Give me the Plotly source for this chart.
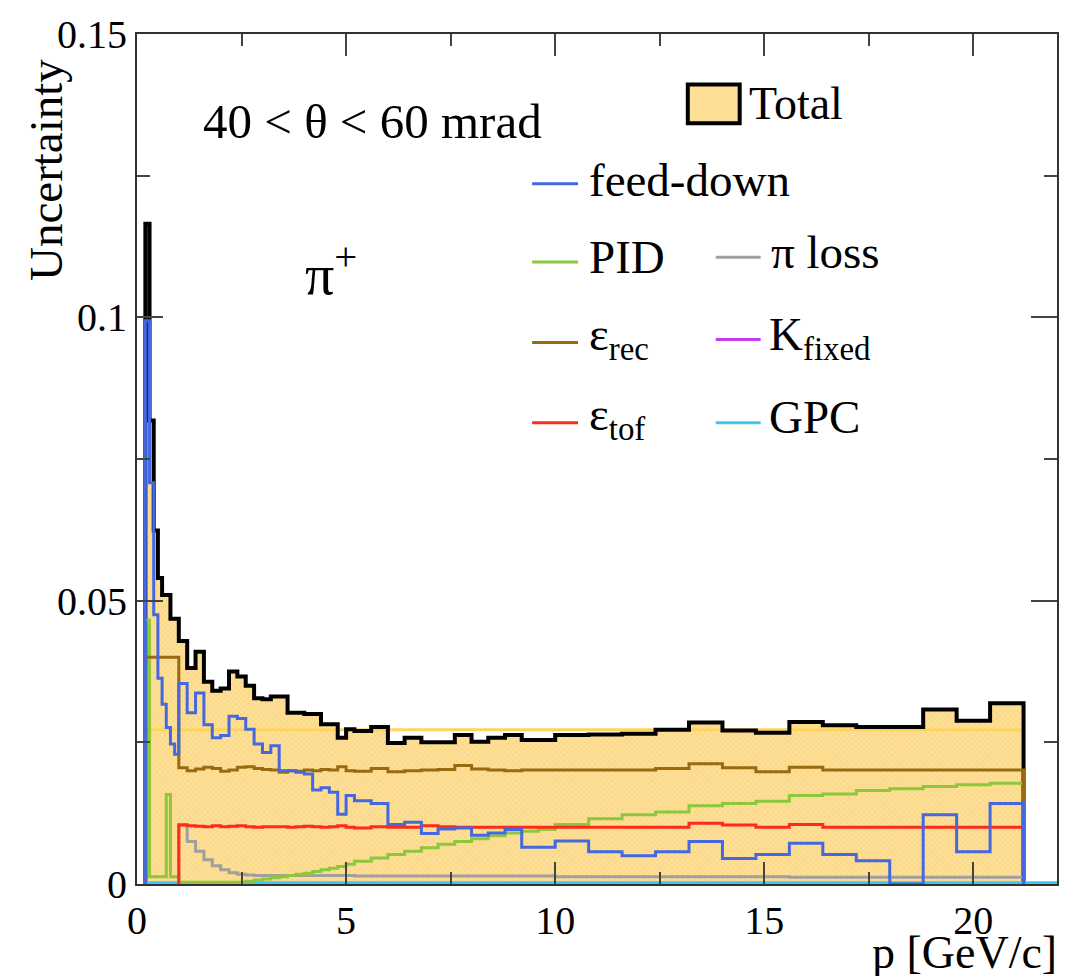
import plotly.graph_objects as go

# ---- binning in p [GeV/c] -------------------------------------------------
edges = [0.2, 0.3, 0.4, 0.5, 0.6, 0.7, 0.8, 0.9, 1.0,
         1.2, 1.4, 1.6, 1.8, 2.0, 2.2, 2.4, 2.6, 2.8, 3.0, 3.2,
         3.4, 3.6, 3.8, 4.0, 4.2, 4.4, 4.6, 4.8, 5.0, 5.2,
         5.6, 6.0, 6.4, 6.8, 7.2, 7.6, 8.0, 8.4, 8.8, 9.2, 9.6, 10.0,
         10.8, 11.6, 12.4, 13.2, 14.0, 14.8, 15.6, 16.4, 17.2, 18.0,
         18.8, 19.6, 20.4, 21.2]
gpc_edges = edges + [22.0]
high_edges = edges[8:]          # components that start at p = 1 GeV/c

# ---- relative uncertainties per bin --------------------------------------
total = [0.1165, 0.0818, 0.0624, 0.0540, 0.0510, 0.0510, 0.0468, 0.0468,
         0.0429, 0.0381, 0.0410, 0.0357, 0.0341, 0.0345, 0.0375, 0.0366, 0.0350, 0.0328, 0.0326,
         0.0331, 0.0331, 0.0302, 0.0302, 0.0300, 0.0300, 0.0282, 0.0282, 0.0258, 0.0273,
         0.0270, 0.0277, 0.0249, 0.0258, 0.0250, 0.0250, 0.0263, 0.0251, 0.0258, 0.0263, 0.0254, 0.0254,
         0.0263, 0.0264, 0.0265, 0.0272, 0.0285, 0.0271, 0.0267, 0.0286, 0.0280, 0.0277, 0.0277,
         0.0308, 0.0288, 0.0319]

feed_down = [0.0994, 0.0708, 0.0475, 0.0363, 0.0317, 0.0276, 0.0247, 0.0229,
             0.0354, 0.0302, 0.0337, 0.0281, 0.0258, 0.0262, 0.0296, 0.0292, 0.0273, 0.0247, 0.0232,
             0.0244, 0.0200, 0.0200, 0.0197, 0.0194, 0.0166, 0.0170, 0.0162, 0.0123, 0.0156,
             0.0147, 0.0142, 0.0105, 0.0109, 0.0089, 0.0097, 0.0099, 0.0086, 0.0090, 0.0096, 0.0065, 0.0065,
             0.0076, 0.0057, 0.0050, 0.0057, 0.0075, 0.0045, 0.0052, 0.0072, 0.0052, 0.0041, 0.0,
             0.0122, 0.0057, 0.0142]

pid = [0.0466, 0.0013, 0.0013, 0.0013, 0.0013, 0.0158, 0.0013, 0.0013,
       0.0003, 0.0003, 0.0003, 0.0003, 0.0003, 0.0003, 0.0003, 0.0003, 0.0005, 0.0007, 0.0009,
       0.0011, 0.0013, 0.0015, 0.0017, 0.0019, 0.0022, 0.0025, 0.0028, 0.0031, 0.0035,
       0.0040, 0.0046, 0.0052, 0.0058, 0.0064, 0.0070, 0.0075, 0.0080, 0.0085, 0.0090, 0.0093, 0.0096,
       0.0105, 0.0115, 0.0122, 0.0127, 0.0138, 0.0142, 0.0146, 0.0156, 0.0159, 0.0165, 0.0168,
       0.0172, 0.0175, 0.0178]

eps_rec = [0.0400, 0.0400, 0.0400, 0.0400, 0.0400, 0.0400, 0.0400, 0.0400,
           0.0205, 0.0200, 0.0203, 0.0206, 0.0204, 0.0199, 0.0201, 0.0206, 0.0207, 0.0204, 0.0202,
           0.0201, 0.0197, 0.0200, 0.0199, 0.0201, 0.0200, 0.0202, 0.0201, 0.0207, 0.0200,
           0.0199, 0.0204, 0.0198, 0.0200, 0.0201, 0.0202, 0.0209, 0.0203, 0.0201, 0.0200, 0.0201, 0.0201,
           0.0201, 0.0201, 0.0201, 0.0204, 0.0212, 0.0205, 0.0198, 0.0206, 0.0201, 0.0201, 0.0201,
           0.0201, 0.0201, 0.0201]

# from p = 1 GeV/c upwards
eps_tof = [0.0104, 0.0103, 0.0102, 0.0101, 0.0103, 0.0101, 0.0102, 0.0103, 0.0101, 0.0100, 0.0101,
           0.0101, 0.0101, 0.0100, 0.0101, 0.0102, 0.0101, 0.0100, 0.0101, 0.0103, 0.0100,
           0.0099, 0.0101, 0.0100, 0.0100, 0.0103, 0.0101, 0.0100, 0.0100, 0.0100, 0.0100, 0.0100, 0.0100,
           0.0100, 0.0100, 0.0100, 0.0100, 0.0107, 0.0104, 0.0100, 0.0105, 0.0100, 0.0100, 0.0100,
           0.0100, 0.0100, 0.0100]

pi_loss = [0.0105, 0.0075, 0.0058, 0.0043, 0.0032, 0.0025, 0.0020, 0.0017, 0.0016, 0.0015, 0.0015,
           0.0015, 0.0015, 0.0015, 0.0015, 0.0015, 0.0015, 0.0015, 0.0015, 0.0015, 0.0015,
           0.0014, 0.0014, 0.0014, 0.0014, 0.0014, 0.0014, 0.0014, 0.0014, 0.0014, 0.0014, 0.0014, 0.0014,
           0.0013, 0.0013, 0.0013, 0.0013, 0.0013, 0.0013, 0.0013, 0.0012, 0.0012, 0.0012, 0.0012,
           0.0012, 0.0012, 0.0012]

k_fixed = [0.0001, 0.0001, 0.0001, 0.0001, 0.0001, 0.0001, 0.0001, 0.0001,
           0.0001, 0.0001, 0.0001, 0.0001, 0.0001, 0.0001, 0.0001, 0.0001, 0.0001, 0.0001, 0.0001,
           0.0001, 0.0001, 0.0001, 0.0001, 0.0001, 0.0001, 0.0001, 0.0001, 0.0001, 0.0001,
           0.0001, 0.0001, 0.0001, 0.0001, 0.0001, 0.0001, 0.0001, 0.0001, 0.0001, 0.0001, 0.0001, 0.0001,
           0.0001, 0.0001, 0.0001, 0.0001, 0.0001, 0.0001, 0.0001, 0.0001, 0.0001, 0.0001, 0.0001,
           0.0001, 0.0001, 0.0001]

gpc = [0.0002, 0.0002, 0.0002, 0.0002, 0.0002, 0.0002, 0.0002, 0.0002,
       0.0002, 0.0002, 0.0002, 0.0002, 0.0002, 0.0002, 0.0002, 0.0002, 0.0002, 0.0002, 0.0002,
       0.0002, 0.0002, 0.0002, 0.0002, 0.0002, 0.0002, 0.0002, 0.0002, 0.0002, 0.0002,
       0.0002, 0.0002, 0.0002, 0.0002, 0.0002, 0.0002, 0.0002, 0.0002, 0.0002, 0.0002, 0.0002, 0.0002,
       0.0002, 0.0002, 0.0002, 0.0002, 0.0002, 0.0002, 0.0002, 0.0002, 0.0002, 0.0002, 0.0002,
       0.0002, 0.0002, 0.0002, 0.0002]

total_plateau = 0.0272

FONT = "Liberation Serif, Times New Roman, DejaVu Serif, serif"
FILL = "#fddf95"
C_TOTAL = "#000000"
C_FEED = "#4468e0"
C_PID = "#8cc83c"
C_PI = "#a0a0a0"
C_REC = "#9a6a10"
C_K = "#c23cf0"
C_TOF = "#ff2a1a"
C_GPC = "#3cc6f5"


def step_xy(e, v):
    """Outline of a histogram (closed to zero at both ends) for an 'hv' line."""
    x = [e[0]] + list(e)
    y = [0.0] + list(v) + [0.0]
    return x, y


fig = go.Figure()

# filled total band
tx, ty = step_xy(edges, total)
fig.add_trace(go.Scatter(
    x=tx, y=ty, mode="lines", line=dict(shape="hv", width=0, color=FILL),
    fill="tozeroy", fillcolor=FILL,
    fillpattern=dict(shape="x", bgcolor=FILL, fgcolor="#f6cc78",
                     size=4, solidity=0.2, fillmode="replace"),
    hoverinfo="skip", showlegend=False))

# plateau of the total
fig.add_trace(go.Scatter(
    x=[edges[0], edges[-1]], y=[total_plateau, total_plateau], mode="lines",
    line=dict(color="#ffd45e", width=3), hoverinfo="skip", showlegend=False))


def add_hist(e, v, color, width=3):
    x, y = step_xy(e, v)
    fig.add_trace(go.Scatter(x=x, y=y, mode="lines",
                             line=dict(shape="hv", color=color, width=width),
                             hoverinfo="skip", showlegend=False))


add_hist(edges, total, C_TOTAL, width=4)
add_hist(edges, k_fixed, C_K)
add_hist(gpc_edges, gpc, C_GPC)
add_hist(high_edges, pi_loss, C_PI)
add_hist(edges, pid, C_PID)
add_hist(edges, eps_rec, C_REC)
add_hist(high_edges, eps_tof, C_TOF)
add_hist(edges, feed_down, C_FEED)

# ---- frame geometry (pixels) ----------------------------------------------
W, H = 1071, 976
L, R, T, B = 137, 1059, 27, 884


def px(x):
    return (x - L) / (R - L)


def py(y):
    return (B - y) / (B - T)


ann = []
shapes = []


def text(x, y, s, size=45, xanchor="left", yanchor="middle", angle=0):
    ann.append(dict(x=px(x), y=py(y), xref="paper", yref="paper", text=s,
                    showarrow=False, xanchor=xanchor, yanchor=yanchor,
                    textangle=angle, font=dict(family=FONT, size=size, color="black")))


text(201, 115, "40 &lt; θ &lt; 60 mrad", 49)
text(303, 265, "π<sup>+</sup>", 58)

# legend
shapes.append(dict(type="rect", xref="paper", yref="paper",
                   x0=px(689), x1=px(741), y0=py(117), y1=py(78),
                   fillcolor=FILL, line=dict(color="black", width=4)))
text(748, 97, "Total", 46)

legend_items = [
    (533, 579, 178, 588, 174, "feed-down", C_FEED),
    (533, 579, 257, 588, 252, "PID", C_PID),
    (717, 762, 252, 770, 247, "π loss", C_PI),
    (533, 579, 338, 588, 333, "ε<sub>rec</sub>", C_REC),
    (717, 762, 335, 768, 333, "K<sub>fixed</sub>", C_K),
    (533, 579, 419, 588, 414, "ε<sub>tof</sub>", C_TOF),
    (717, 762, 419, 768, 413, "GPC", C_GPC),
]
for x0, x1, yl, xt, yt, label, col in legend_items:
    shapes.append(dict(type="line", xref="paper", yref="paper",
                       x0=px(x0), x1=px(x1), y0=py(yl), y1=py(yl),
                       line=dict(color=col, width=3)))
    text(xt, yt, label, 47)

# axis titles
text(1061, 953, "p [GeV/c]", 46, xanchor="right")
text(46, 50, "Uncertainty", 47, xanchor="center", yanchor="top", angle=-90)

axis_common = dict(showline=True, linecolor="#333333", linewidth=2, mirror="allticks",
                   ticks="inside", tickcolor="#444444", tickwidth=2,
                   showgrid=False, zeroline=False,
                   tickfont=dict(family=FONT, size=40, color="black"))

fig.update_layout(
    width=W, height=H,
    margin=dict(l=L, r=W - R, t=T, b=H - B),
    paper_bgcolor="white", plot_bgcolor="white",
    showlegend=False,
    xaxis=dict(range=[0, 22], dtick=5, tick0=0, ticklen=22,
               minor=dict(dtick=2.5, ticks="inside", ticklen=12,
                          tickcolor="#444444", tickwidth=2),
               **axis_common),
    yaxis=dict(range=[0, 0.15], dtick=0.05, tick0=0, ticklen=26,
               minor=dict(dtick=0.025, ticks="inside", ticklen=13,
                          tickcolor="#444444", tickwidth=2),
               **axis_common),
    annotations=ann,
    shapes=shapes,
)

fig.write_html("out.html")
